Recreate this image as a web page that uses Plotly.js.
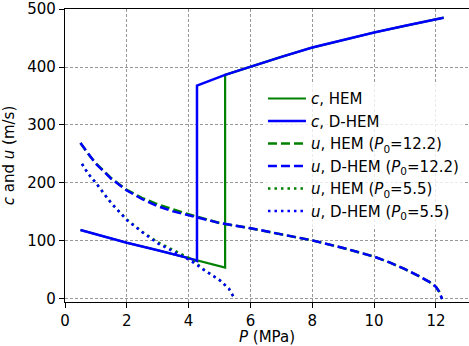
<!DOCTYPE html>
<html>
<head>
<meta charset="utf-8">
<script src="https://cdn.plot.ly/plotly-3.0.1.min.js"></script>
<style>html,body{margin:0;padding:0;background:#fff;}#chart{width:469px;height:346px;}</style>
</head>
<body>
<div id="chart"></div>
<script>
// c, HEM
const cHEM_P = [0.5, 1, 2, 3, 4, 4.28, 5.18, 5.18, 6, 7, 8, 9, 10, 11, 12, 12.25];
const cHEM_v = [119, 111.5, 97, 84, 70.5, 65.5, 54, 386.5, 401, 417.5, 433.5, 447, 459.5, 471, 482, 485];
// c, D-HEM
const cDHEM_P = [0.5, 1, 2, 3, 4, 4.27, 4.27, 5.18, 6, 7, 8, 9, 10, 11, 12, 12.25];
const cDHEM_v = [119, 111.5, 97, 84, 70.5, 65.5, 368, 386.5, 401, 417.5, 433.5, 447, 459.5, 471, 482, 485];
// u, P0 = 12.2
const u122_P = [0.5, 0.75, 1, 1.5, 2, 2.5, 3, 3.5, 4, 4.28, 5, 6, 7, 8, 9, 10, 10.5, 11, 11.5, 11.8, 12, 12.1, 12.2];
const u122_HEM = [269, 250, 234, 208, 188, 174, 163, 154, 146, 142, 131, 122, 112, 101, 88, 73, 63, 51.5, 38, 29, 21, 13, 0];
const u122_DHEM = [269, 250, 233, 207, 187, 172, 160, 151, 144, 140, 131, 122, 112, 101, 88, 73, 63, 51.5, 38, 29, 21, 13, 0];
// u, P0 = 5.5
const u55_P = [0.55, 0.75, 1, 1.5, 2, 2.5, 3, 3.5, 4, 4.28, 4.5, 5, 5.3, 5.45, 5.5];
const u55_HEM = [233, 216, 200, 165, 137, 116, 98, 85, 71, 60, 50.5, 32.6, 18, 4, 0];
const u55_DHEM = [233, 216, 200, 165, 136, 115, 96, 82, 68, 58.4, 49.8, 32.6, 18, 4, 0];

const xTicks = [0, 2, 4, 6, 8, 10, 12];
const yTicks = [0, 100, 200, 300, 400, 500];

const green = '#008000', blue = '#0000ff';
const traces = [
  {x: cHEM_P, y: cHEM_v, name: '<i>c</i>, HEM', line: {color: green, width: 2.2}},
  {x: cDHEM_P, y: cDHEM_v, name: '<i>c</i>, D-HEM', line: {color: blue, width: 2.5}},
  {x: u122_P, y: u122_HEM, name: '<i>u</i>, HEM (<i>P</i><sub>0</sub>=12.2)', line: {color: green, width: 2.5, dash: '9px,4px'}},
  {x: u122_P, y: u122_DHEM, name: '<i>u</i>, D-HEM (<i>P</i><sub>0</sub>=12.2)', line: {color: blue, width: 2.5, dash: '9px,4px'}},
  {x: u55_P, y: u55_HEM, name: '<i>u</i>, HEM (<i>P</i><sub>0</sub>=5.5)', line: {color: green, width: 2.5, dash: '2.5px,4px'}},
  {x: u55_P, y: u55_DHEM, name: '<i>u</i>, D-HEM (<i>P</i><sub>0</sub>=5.5)', line: {color: blue, width: 2.5, dash: '2.5px,4px'}}
].map(t => Object.assign({type: 'scatter', mode: 'lines', hoverinfo: 'skip'}, t));

const font = {family: 'DejaVu Sans', size: 15, color: '#000'};
const layout = {
  width: 469, height: 346,
  margin: {l: 65, r: 0, t: 9, b: 44},
  paper_bgcolor: '#fff', plot_bgcolor: '#fff',
  font: font,
  showlegend: true,
  legend: {x: 0.49, y: 0.75, xanchor: 'left', yanchor: 'top', bgcolor: 'rgba(255,255,255,0.8)',
           borderwidth: 0, font: {family: 'DejaVu Sans', size: 15, color: '#000'}, tracegroupgap: 0, itemwidth: 38},
  xaxis: {range: [0, 13.07], tickvals: xTicks, ticktext: xTicks.map(String),
          showline: true, linecolor: '#000', linewidth: 1.2, mirror: true,
          ticks: 'outside', ticklen: 5, tickcolor: '#000',
          showgrid: true, gridcolor: '#999', griddash: '3px,2px', gridwidth: 1, zeroline: false,
          title: {text: '<i>P</i> (MPa)', font: font, standoff: 4}},
  yaxis: {range: [-5.2, 500], tickvals: yTicks, ticktext: yTicks.map(String),
          showline: true, linecolor: '#000', linewidth: 1.2,
          ticks: 'outside', ticklen: 5, tickcolor: '#000',
          showgrid: true, gridcolor: '#999', griddash: '3px,2px', gridwidth: 1, zeroline: false,
          title: {text: '<i>c</i> and <i>u</i> (m/s)', font: font, standoff: 14}}
};
Plotly.newPlot('chart', traces, layout, {displayModeBar: false, staticPlot: true});
</script>
</body>
</html>
